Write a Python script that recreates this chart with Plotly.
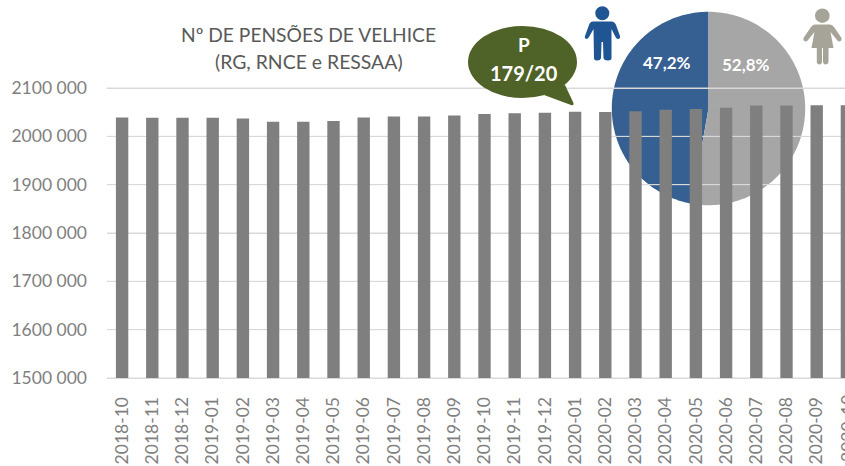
import math
import re
import plotly.graph_objects as go

months = ["2018-10","2018-11","2018-12","2019-01","2019-02","2019-03","2019-04","2019-05","2019-06",
          "2019-07","2019-08","2019-09","2019-10","2019-11","2019-12","2020-01","2020-02","2020-03",
          "2020-04","2020-05","2020-06","2020-07","2020-08","2020-09","2020-10"]
pensions = [2039000,2038500,2038500,2038500,2037000,2030000,2030000,2032000,2039000,
            2041000,2041000,2043000,2046000,2048000,2049000,2051000,2050500,2052000,
            2055000,2056500,2059000,2064000,2064000,2064500,2064500]
y_ticks = [1500000,1600000,1700000,1800000,1900000,2000000,2100000]
y_labels = ["1500 000","1600 000","1700 000","1800 000","1900 000","2000 000","2100 000"]
sex_labels = ["47,2%","52,8%"]
sex_shares = [47.2,52.8]
title_lines = ["Nº DE PENSÕES DE VELHICE","(RG, RNCE e RESSAA)"]
bubble_lines = ["P","179/20"]

W, H = 845, 466
LEFT, BASE = 107, 378
BAND, PER_100K = 30.2, 48.33
FONT = "Lato"
AX = "#7F7F7F"
px = lambda x: (x - LEFT) / (W - LEFT)
py = lambda y: 1 - y / BASE
dx = lambda x: (x - LEFT) / BAND - 0.5
dy = lambda y: 1500000 + (BASE - y) / PER_100K * 100000

def path(d):
    nums = iter(re.findall(r"-?\d+\.?\d*|[A-Za-z]", d))
    out, isx = [], True
    for t in nums:
        if t.isalpha():
            out.append(t); isx = True
        else:
            out.append(str(px(float(t)) if isx else py(float(t)))); isx = not isx
    return " ".join(out)

def shp(d, color, layer="above"):
    return dict(type="path", xref="paper", yref="paper", path=path(d), fillcolor=color,
                line=dict(width=0), layer=layer)

def circ(cx, cy, rx, ry, color):
    return dict(type="circle", xref="paper", yref="paper", x0=px(cx-rx), x1=px(cx+rx),
                y0=py(cy+ry), y1=py(cy-ry), fillcolor=color, line=dict(width=0), layer="above")

def wedge(cx, cy, r, a0, a1, color):
    pts = [(cx, cy)]
    n = 120
    for i in range(n + 1):
        a = math.radians(a0 + (a1 - a0) * i / n)
        pts.append((cx + r * math.sin(a), cy - r * math.cos(a)))
    d = "M" + " L".join(f"{dx(x):.4f},{dy(y):.1f}" for x, y in pts) + " Z"
    return dict(type="path", xref="x", yref="y", path=d, fillcolor=color, line=dict(width=0), layer="below")

male_angle = sex_shares[0] / sum(sex_shares) * 360
shapes = [
    wedge(708.5, 108.5, 96.7, -male_angle, 0, "#376092"),
    wedge(708.5, 108.5, 96.7, 0, 360 - male_angle, "#A6A6A6"),
]
for t in y_ticks:
    shapes.append(dict(type="line", xref="x", yref="y", x0=dx(LEFT), x1=dx(W), y0=t, y1=t,
                       line=dict(color="#D9D9D9", width=1), layer="between"))
shapes += [
    circ(522.5, 62, 54.5, 36, "#4F6228"),
    shp("M 558,86 L 565,85 L 573.5,103 Q 574,106 571,105 L 544,95 Z", "#4F6228"),
    circ(602.3, 13.3, 7, 7, "#1F5592"),
    shp("M 593,21.5 L 611.5,21.5 Q 614.5,21.5 616,25 L 620,36 Q 620.5,38.5 618,39 Q 616.5,39 615.5,37 "
        "L 611.5,29 L 611.5,58 Q 611.5,60.5 608,60.5 Q 604,60.5 603.5,58 L 603,42 L 601.5,42 L 601,58 "
        "Q 600.5,60.5 597,60.5 Q 594,60.5 594,58 L 593.5,29 L 589,37 Q 588,39 586,39 Q 584,38 585,36 "
        "L 589,25 Q 590,21.5 593,21.5 Z", "#1F5592"),
    circ(822.3, 15.7, 7.3, 7.3, "#A6A398"),
    shp("M 815,24.5 L 830,24.5 Q 832.5,24.5 834,27 L 841.5,38 Q 842,41 839.5,41.5 Q 838,41.5 837,40 "
        "L 830.5,32 L 833.5,48 L 828.5,48 L 828.5,62 Q 828,64.5 825.5,64.5 Q 823.5,64.5 823,62 L 823,48 "
        "L 822,48 L 822,62 Q 821.5,64.5 819.5,64.5 Q 817,64.5 816.8,62 L 816.8,48 L 811.5,48 L 814.5,32 "
        "L 808,40 Q 807,41.5 805.5,41.5 Q 803,41 803.5,38 L 811,27 Q 812.5,24.5 815,24.5 Z", "#A6A398"),
]

def label(x, y, text, size, color, bold=False, angle=0, yanchor="middle"):
    return dict(xref="paper", yref="paper", x=px(x), y=py(y), text=f"<b>{text}</b>" if bold else text,
                showarrow=False, xanchor="center", yanchor=yanchor, textangle=angle,
                font=dict(family=FONT, size=size, color=color))

annotations = [
    label(308.5, 34, title_lines[0], 19.2, "#595959"),
    label(308.5, 62, title_lines[1], 19.4, "#595959"),
    label(524, 44, bubble_lines[0], 19, "white", True),
    label(524, 73, bubble_lines[1], 20, "white", True),
    label(666.5, 63, sex_labels[0], 17, "white", True),
    label(745.5, 64, sex_labels[1], 17, "white", True),
    label(847, 428, months[-1], 17.5, AX, angle=-90),
]

fig = go.Figure(go.Bar(x=list(range(len(months))), y=pensions, marker=dict(color="#7F7F7F", line=dict(width=0)), width=0.41))

fig.update_layout(
    width=W, height=H, autosize=False,
    margin=dict(l=LEFT, r=0, t=0, b=H - BASE, pad=0, autoexpand=False),
    paper_bgcolor="white", plot_bgcolor="rgba(0,0,0,0)",
    showlegend=False, shapes=shapes, annotations=annotations,
    xaxis=dict(range=[-0.5, (W - LEFT) / BAND - 0.5], tickmode="array", tickvals=list(range(len(months))),
               ticktext=months, tickangle=-90, ticks="", showgrid=False, showline=True, linecolor="#D9D9D9",
               linewidth=1, zeroline=False, ticklabelstandoff=11, automargin=False,
               tickfont=dict(family=FONT, size=17.5, color=AX)),
    yaxis=dict(range=[1500000, dy(0)], tickmode="array", tickvals=y_ticks,
               ticktext=y_labels, ticks="", showgrid=True, gridcolor="#D9D9D9", gridwidth=1,
               zeroline=False, showline=False, ticklabelstandoff=19, automargin=False,
               tickfont=dict(family=FONT, size=17.5, color=AX)),
)
fig.write_html("out.html", config=dict(displayModeBar=False),
               post_script="document.body.style.margin='0';document.documentElement.style.overflow='hidden';")
